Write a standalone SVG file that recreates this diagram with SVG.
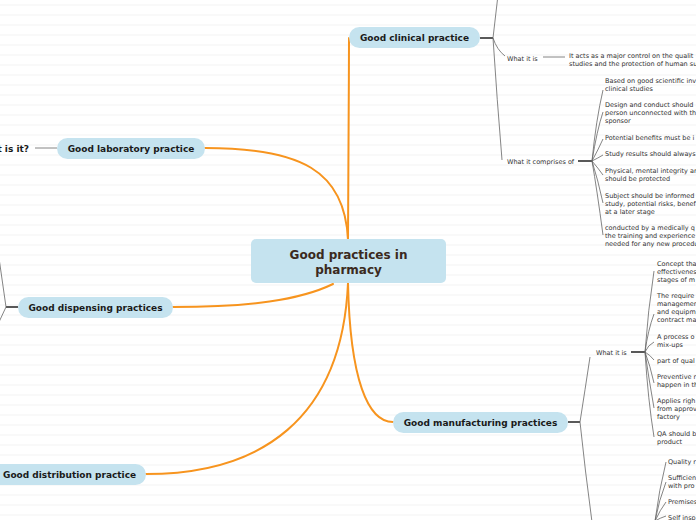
<svg xmlns="http://www.w3.org/2000/svg" width="696" height="520" viewBox="0 0 696 520">
<defs>
<pattern id="stripes" x="0" y="0" width="696" height="10" patternUnits="userSpaceOnUse">
<rect x="0" y="4.5" width="696" height="1" fill="#f3f3f3"/>
</pattern>
</defs>
<style>
.pill{fill:#c5e3ef}
.pt{font-family:"DejaVu Sans",Verdana,sans-serif;font-weight:bold;font-size:9px;fill:#1a1a1a}
.ct{font-family:"DejaVu Sans",Verdana,sans-serif;font-weight:bold;font-size:12px;fill:#3b2a20}
.st{font-family:"DejaVu Sans",Verdana,sans-serif;font-size:6.5px;fill:#333}
.br{fill:none;stroke:#f7941e;stroke-width:2;stroke-linecap:round}
.ln{fill:none;stroke:#666;stroke-width:0.8}
.dk{fill:none;stroke:#222;stroke-width:1.5}
</style>
<rect width="696" height="520" fill="#fff"/>
<rect width="696" height="520" fill="url(#stripes)"/>
<g id="connectors">
<path class="br" d="M348,240 C348,150 349,100 349,38"/>
<path class="br" d="M348,240 C345,170 300,148 205,148"/>
<path class="br" d="M333,284 C300,300 250,307 173,307"/>
<path class="br" d="M348,283 C342,420 260,474 146,474"/>
<path class="br" d="M348,283 C350,380 368,422 393,422"/>
<path class="ln" d="M35,148 H57"/>
<path class="dk" d="M18,307 H6"/>
<path class="ln" d="M6,307 L-1,258 M6,307 L-1,322"/>
<path class="dk" d="M480,38 H493"/>
<path class="ln" d="M493,38 L498,-5 M493,38 Q497,50 505,56 M493,38 Q497,100 502,160"/>
<path class="ln" d="M543,57 H565"/>
<path class="dk" d="M578,161 H592"/>
<path class="ln" d="M592,161 Q596,120 603,90 M592,161 Q597,130 603,112 M592,161 Q598,150 603,139 M592,161 Q598,158 603,155 M592,161 Q598,168 603,175 M592,161 Q598,180 603,203 M592,161 Q597,190 603,235"/>
<path class="dk" d="M568,422 H580"/>
<path class="ln" d="M580,422 Q585,390 590,357 M580,422 Q585,470 592,522"/>
<path class="dk" d="M631,352 H645"/>
<path class="ln" d="M645,352 Q648,310 654,271 M645,352 Q648,330 654,314 M645,352 Q648,345 654,342 M645,352 Q650,355 654,360 M645,352 Q650,365 654,383 M645,352 Q649,380 654,408 M645,352 Q648,400 654,437"/>
<path class="dk" d="M640,521 H655"/>
<path class="ln" d="M655,521 Q659,490 666,462 M655,521 Q659,500 666,482 M655,521 Q660,510 666,502 M655,521 Q660,518 666,516"/>
</g>
<g id="center">
<rect x="251" y="239" width="195" height="44" rx="5" class="pill"/>
<text class="ct" x="348.5" y="259" text-anchor="middle">Good practices in</text>
<text class="ct" x="348.5" y="273.5" text-anchor="middle">pharmacy</text>
</g>
<g id="clinical">
<rect x="349" y="27" width="131" height="21" rx="10.5" class="pill"/>
<text class="pt" x="414.5" y="41" text-anchor="middle">Good clinical practice</text>
</g>
<g id="laboratory">
<rect x="57" y="138" width="148" height="21" rx="10.5" class="pill"/>
<text class="pt" x="131" y="152" text-anchor="middle">Good laboratory practice</text>
</g>
<g id="lab-what">
<text class="pt" x="29" y="151.5" text-anchor="end">What is it?</text>
</g>
<g id="dispensing">
<rect x="18" y="297" width="155" height="21" rx="10.5" class="pill"/>
<text class="pt" x="95.5" y="311" text-anchor="middle">Good dispensing practices</text>
</g>
<g id="distribution">
<rect x="-20" y="464" width="166" height="21" rx="10.5" class="pill"/>
<text class="pt" x="3" y="478">Good distribution practice</text>
</g>
<g id="manufacturing">
<rect x="393" y="412" width="175" height="21" rx="10.5" class="pill"/>
<text class="pt" x="480.5" y="426" text-anchor="middle">Good manufacturing practices</text>
</g>
<g id="gcp-what">
<text class="st" x="507" y="60.5">What it is</text>
</g>
<g id="gcp-what-text">
<text class="st" x="569" y="57.5">It acts as a major control on the qualit</text>
<text class="st" x="569" y="65.5">studies and the protection of human su</text>
</g>
<g id="gcp-comprises">
<text class="st" x="507" y="163.5">What it comprises of</text>
</g>
<g id="gcp-items">
<text class="st" x="605" y="82.5">Based on good scientific inv</text>
<text class="st" x="605" y="90.5">clinical studies</text>
<text class="st" x="605" y="106.5">Design and conduct should</text>
<text class="st" x="605" y="114.5">person unconnected with th</text>
<text class="st" x="605" y="122.5">sponsor</text>
<text class="st" x="605" y="139.5">Potential benefits must be i</text>
<text class="st" x="605" y="155.5">Study results should always</text>
<text class="st" x="605" y="172.5">Physical, mental integrity ar</text>
<text class="st" x="605" y="180.5">should be protected</text>
<text class="st" x="605" y="197.5">Subject should be informed</text>
<text class="st" x="605" y="205.5">study, potential risks, benef</text>
<text class="st" x="605" y="213.5">at a later stage</text>
<text class="st" x="605" y="229.5">conducted by a medically q</text>
<text class="st" x="605" y="237.5">the training and experience</text>
<text class="st" x="605" y="245.5">needed for any new procedu</text>
</g>
<g id="gmp-what">
<text class="st" x="596" y="354.5">What it is</text>
</g>
<g id="gmp-items">
<text class="st" x="657" y="265.5">Concept tha</text>
<text class="st" x="657" y="273.5">effectivenes</text>
<text class="st" x="657" y="281.5">stages of m</text>
<text class="st" x="657" y="297.5">The require</text>
<text class="st" x="657" y="305.5">managemen</text>
<text class="st" x="657" y="313.5">and equipm</text>
<text class="st" x="657" y="321.5">contract ma</text>
<text class="st" x="657" y="338.5">A process o</text>
<text class="st" x="657" y="346.5">mix-ups</text>
<text class="st" x="657" y="362.5">part of qual</text>
<text class="st" x="657" y="378.5">Preventive r</text>
<text class="st" x="657" y="386.5">happen in th</text>
<text class="st" x="657" y="402.5">Applies righ</text>
<text class="st" x="657" y="410.5">from approv</text>
<text class="st" x="657" y="418.5">factory</text>
<text class="st" x="657" y="435.5">QA should b</text>
<text class="st" x="657" y="443.5">product</text>
</g>
<g id="gmp-items2">
<text class="st" x="668" y="463.5">Quality r</text>
<text class="st" x="668" y="479.5">Sufficien</text>
<text class="st" x="668" y="487.5">with pro</text>
<text class="st" x="668" y="503.5">Premises</text>
<text class="st" x="668" y="519.5">Self insp</text>
</g>
</svg>
